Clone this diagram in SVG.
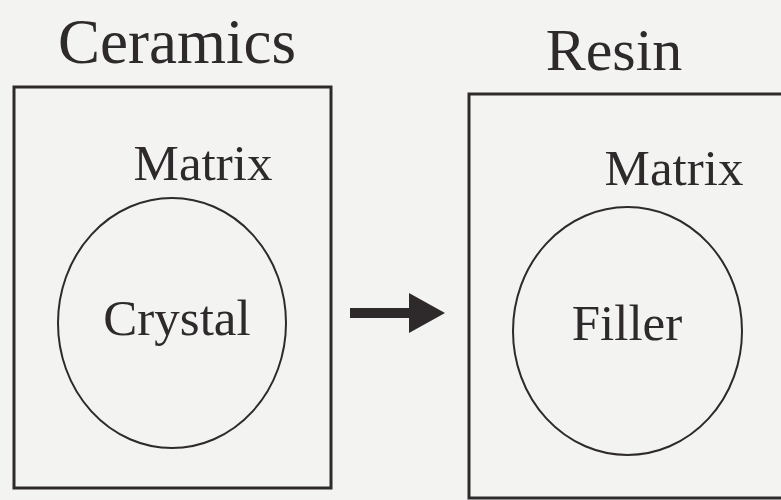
<svg xmlns="http://www.w3.org/2000/svg" width="781" height="500" viewBox="0 0 781 500">
<style>
.t{font-family:"Liberation Serif","Times New Roman",serif;fill:#2e2a2c;}
.box{fill:none;stroke:#2e2a2c;stroke-width:3;}
.el{fill:none;stroke:#2e2a2c;stroke-width:2;}
</style>
<rect width="781" height="500" fill="#f3f3f2"/>
<g id="ceramics">
<text class="t" x="177" y="63" font-size="63" text-anchor="middle">Ceramics</text>
<rect class="box" x="14" y="87" width="317" height="401"/>
<text class="t" x="203" y="180" font-size="51" text-anchor="middle">Matrix</text>
</g>
<g id="crystal">
<ellipse class="el" cx="172" cy="323" rx="114" ry="125"/>
<text class="t" x="177" y="335" font-size="51" text-anchor="middle">Crystal</text>
</g>
<g id="resin">
<text class="t" x="614" y="70" font-size="60" text-anchor="middle">Resin</text>
<rect class="box" x="469" y="94" width="330" height="404"/>
<text class="t" x="674" y="185" font-size="51" text-anchor="middle">Matrix</text>
</g>
<g id="filler">
<ellipse class="el" cx="627.5" cy="331" rx="114.5" ry="124"/>
<text class="t" x="627" y="340" font-size="51" text-anchor="middle">Filler</text>
</g>
<g id="connectors">
<path d="M350,308 H409 V293 L445,313 L409,333 V318 H350 Z" fill="#2e2a2c"/>
</g>
</svg>
